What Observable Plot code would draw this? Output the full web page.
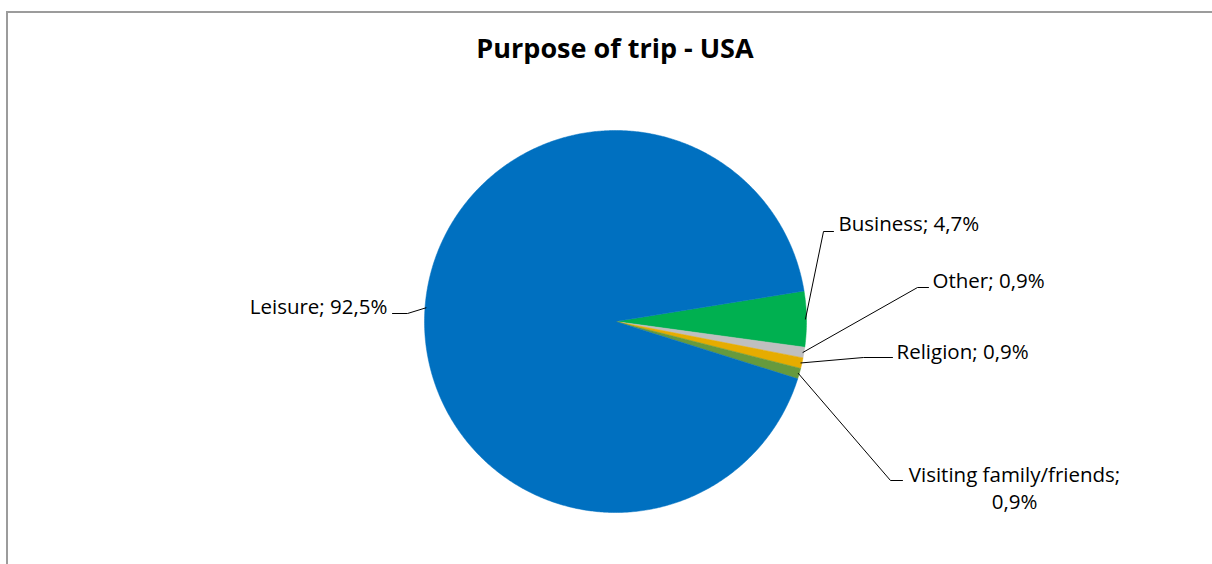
<!DOCTYPE html>
<html>
<head>
<meta charset="utf-8">
<script src="https://cdn.jsdelivr.net/npm/d3@7"></script>
<script src="https://cdn.jsdelivr.net/npm/@observablehq/plot@0.6"></script>
<style>
html,body{margin:0;padding:0;background:#fff;width:1212px;height:564px;overflow:hidden;}
#frame{position:absolute;left:6px;top:11px;width:1300px;height:700px;border-top:2px solid #9c9c9c;border-left:2px solid #9c9c9c;box-sizing:border-box;}
#title{position:absolute;left:315px;width:600px;top:28px;text-align:center;font-family:"Open Sans",sans-serif;font-weight:bold;font-size:27px;line-height:40px;color:#000;}
#chart{position:absolute;left:0;top:0;}
</style>
</head>
<body>
<div id="frame"></div>
<div id="title">Purpose of trip - USA</div>
<div id="chart"></div>
<script>
// ---- data ----
const categories = ["Business", "Other", "Religion", "Visiting family/friends", "Leisure"];
const shares = [4.7, 0.9, 0.9, 0.9, 92.5];
const colors = ["#00B050", "#BFBFBF", "#E6AC00", "#669A3E", "#0070C0"];
const labelBreaks = [false, false, false, true, false];

// ---- layout (pixels) ----
const cx = 615, cy = 321, R = 191;
const firstSliceDeg = 80.8; // clockwise from 12 o'clock
const leaderLayout = {
  "Business": {elbow: [823, 231], end: [833, 231], text: [838, 222], anchor: "start"},
  "Other": {elbow: [917, 287], end: [928, 287], text: [932, 279], anchor: "start"},
  "Religion": {elbow: [863, 357], end: [892, 357], text: [896, 350], anchor: "start"},
  "Visiting family/friends": {elbow: [890, 480], end: [902, 480], text: [1014, 486.5], anchor: "middle"},
  "Leisure": {elbow: [407, 313], end: [392, 313], text: [387, 305], anchor: "end"}
};
const FONT = "Open Sans";
const FS = 20.5;

const a0 = firstSliceDeg * Math.PI / 180;
const arcs = d3.pie().sort(null).startAngle(a0).endAngle(a0 + 2 * Math.PI)(shares);

const pt = (a, r) => [cx + r * Math.sin(a), cy - r * Math.cos(a)];

// slice polygons
const polys = [];
arcs.forEach((arc, i) => {
  const cat = categories[i];
  polys.push({cat, x: cx, y: cy});
  const n = Math.max(4, Math.ceil((arc.endAngle - arc.startAngle) / (Math.PI / 360)));
  for (let k = 0; k <= n; k++) {
    const a = arc.startAngle + (arc.endAngle - arc.startAngle) * k / n;
    const [x, y] = pt(a, R);
    polys.push({cat, x, y});
  }
  polys.push({cat, x: cx, y: cy});
});

// leaders and labels
const leaders = [];
const labels = [];
arcs.forEach((arc, i) => {
  const cat = categories[i];
  const L = leaderLayout[cat];
  const mid = (arc.startAngle + arc.endAngle) / 2;
  const [sx, sy] = pt(mid, R - 1);
  leaders.push({cat, x: sx, y: sy}, {cat, x: L.elbow[0], y: L.elbow[1]}, {cat, x: L.end[0], y: L.end[1]});
  const val = shares[i].toFixed(1).replace(".", ",") + "%";
  labels.push({cat, x: L.text[0], y: L.text[1], anchor: L.anchor, text: cat + ";" + (labelBreaks[i] ? "\n" : " ") + val});
});

const textMarks = ["start", "middle", "end"].map(anchor =>
  Plot.text(labels.filter(d => d.anchor === anchor), {
    x: "x", y: "y", text: "text", textAnchor: anchor, lineAnchor: "middle",
    fontSize: FS, fontFamily: FONT, fill: "#000", lineHeight: 27 / FS
  })
);

const chart = Plot.plot({
  width: 1212,
  height: 564,
  margin: 0,
  x: {type: "identity", axis: null},
  y: {type: "identity", axis: null},
  color: {domain: categories, range: colors},
  style: {background: "transparent", overflow: "visible"},
  marks: [
    Plot.line(polys, {x: "x", y: "y", z: "cat", fill: "cat", stroke: "cat", strokeWidth: 0.5, curve: "linear"}),
    Plot.line(leaders, {x: "x", y: "y", z: "cat", stroke: "#000", strokeWidth: 1, curve: "linear"}),
    ...textMarks
  ]
});
document.getElementById("chart").appendChild(chart);
</script>
</body>
</html>
